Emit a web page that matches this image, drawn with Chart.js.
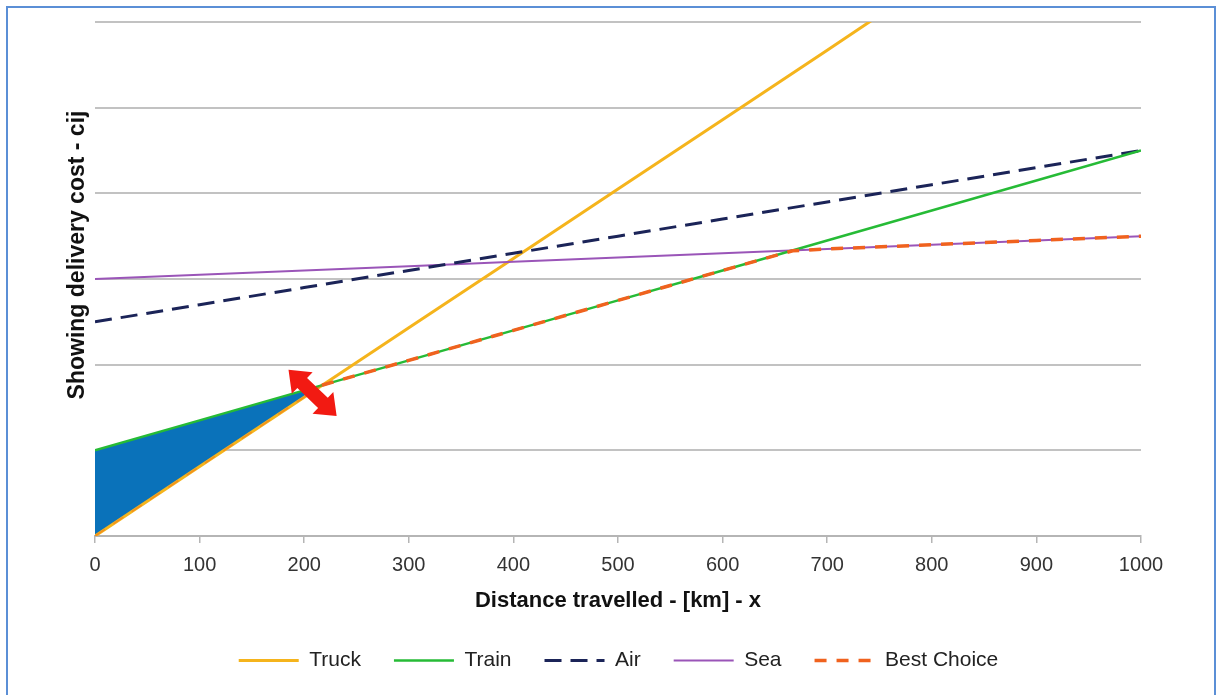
<!DOCTYPE html>
<html>
<head>
<meta charset="utf-8">
<script src="https://cdn.jsdelivr.net/npm/chart.js@4.4.0/dist/chart.umd.min.js"></script>
<style>
  body { margin: 0; background: #fff; }
  #frame { position: absolute; left: 6px; top: 6px; width: 1206px; height: 720px; border: 2px solid #5b8fd6; border-bottom: none; }
  #wrap { position: absolute; left: 0; top: 0; width: 1219px; height: 695px; }
</style>
</head>
<body>
<div id="frame"></div>
<div id="wrap"><canvas id="chart" width="1219" height="695"></canvas></div>
<script>
// distance in km (x) and relative delivery cost (y, no units shown)
var distance = [0, 100, 200, 300, 400, 500, 600, 700, 800, 900, 1000];
var truckKm = [0, 100, 200, 300, 400, 500, 600, 700, 750];
var truckCost = [0, 0.81, 1.62, 2.43, 3.24, 4.05, 4.86, 5.67, 6.08];
var trainCost = [1.0, 1.35, 1.7, 2.05, 2.4, 2.75, 3.1, 3.45, 3.8, 4.15, 4.5];
var airCost = [2.5, 2.7, 2.9, 3.1, 3.3, 3.5, 3.7, 3.9, 4.1, 4.3, 4.5];
var seaCost = [3.0, 3.05, 3.1, 3.15, 3.2, 3.25, 3.3, 3.35, 3.4, 3.45, 3.5];
var bestKm = [0, 100, 200, 217, 300, 400, 500, 600, 667, 700, 800, 900, 1000];
var bestCost = [0, 0.81, 1.62, 1.76, 2.05, 2.4, 2.75, 3.1, 3.33, 3.35, 3.4, 3.45, 3.5];
// shaded area between train and truck up to the crossing
var shadeKm = [0, 100, 200, 217];
var shadeTop = [1.0, 1.35, 1.7, 1.76];
var shadeBottom = [0, 0.81, 1.62, 1.76];
// red double arrow at the crossing (data units)
var arrowFrom = [185, 1.94];
var arrowTo = [231, 1.40];

var xTicks = [0, 100, 200, 300, 400, 500, 600, 700, 800, 900, 1000];

function pts(xs, ys) {
  return xs.map(function (x, i) { return { x: x, y: ys[i] }; });
}

var arrowPlugin = {
  id: "arrow",
  afterDatasetsDraw: function (chart) {
    var ctx = chart.ctx;
    var sx = chart.scales.x, sy = chart.scales.y;
    var x1 = sx.getPixelForValue(arrowFrom[0]), y1 = sy.getPixelForValue(arrowFrom[1]);
    var x2 = sx.getPixelForValue(arrowTo[0]), y2 = sy.getPixelForValue(arrowTo[1]);
    var len = Math.hypot(x2 - x1, y2 - y1);
    var head = 19, hw = 15, sw = 7;
    ctx.save();
    ctx.translate(x1, y1);
    ctx.rotate(Math.atan2(y2 - y1, x2 - x1));
    ctx.beginPath();
    ctx.moveTo(0, 0);
    ctx.lineTo(head, -hw);
    ctx.lineTo(head, -sw);
    ctx.lineTo(len - head, -sw);
    ctx.lineTo(len - head, -hw);
    ctx.lineTo(len, 0);
    ctx.lineTo(len - head, hw);
    ctx.lineTo(len - head, sw);
    ctx.lineTo(head, sw);
    ctx.lineTo(head, hw);
    ctx.closePath();
    ctx.fillStyle = "#f21a12";
    ctx.fill();
    ctx.restore();
  }
};

var yTitlePlugin = {
  id: "ytitle",
  afterDraw: function (chart) {
    var ctx = chart.ctx;
    ctx.save();
    ctx.translate(78, 255);
    ctx.rotate(-Math.PI / 2);
    ctx.font = "bold 23px 'Liberation Sans', Arial, sans-serif";
    ctx.fillStyle = "#111";
    ctx.textAlign = "center";
    ctx.textBaseline = "middle";
    ctx.fillText("Showing delivery cost - cij", 0, 0);
    ctx.restore();
  }
};

var ctx0 = document.getElementById("chart");
var myChart = new Chart(ctx0, {
  type: "line",
  data: {
    datasets: [
      { label: "Truck", data: pts(truckKm, truckCost), borderColor: "#f5b41c", borderWidth: 3, pointRadius: 0, fill: false, order: 4 },
      { label: "Train", data: pts(distance, trainCost), borderColor: "#26bb36", borderWidth: 2.5, pointRadius: 0, fill: false, order: 1 },
      { label: "Air", data: pts(distance, airCost), borderColor: "#1b2458", borderWidth: 3, borderDash: [17, 9], pointRadius: 0, fill: false, order: 2 },
      { label: "Sea", data: pts(distance, seaCost), borderColor: "#9a55b8", borderWidth: 2, pointRadius: 0, fill: false, order: 3 },
      {
        label: "Best Choice", data: pts(bestKm, bestCost), borderColor: "#f0621e", borderWidth: 3.5, borderDash: [12, 10], pointRadius: 0, fill: false, order: 0,
        segment: {
          // mostly hidden under the shaded area in the original
          borderColor: function (c) { return c.p1.parsed.x <= 217 ? "rgba(240,98,30,0.45)" : undefined; },
          borderWidth: function (c) { return c.p1.parsed.x <= 217 ? 1.5 : undefined; }
        }
      },
      { label: "", data: pts(shadeKm, shadeTop), borderWidth: 0, borderColor: "rgba(0,0,0,0)", backgroundColor: "#0a72ba", pointRadius: 0, fill: "+1", order: 5 },
      { label: "", data: pts(shadeKm, shadeBottom), borderWidth: 0, borderColor: "rgba(0,0,0,0)", pointRadius: 0, fill: false, order: 6 }
    ]
  },
  options: {
    responsive: false,
    animation: false,
    layout: { padding: { left: 18, right: 0, top: 22, bottom: 14 } },
    plugins: {
      tooltip: { enabled: false },
      legend: {
        position: "bottom",
        labels: {
          usePointStyle: true,
          pointStyleWidth: 60,
          padding: 33,
          color: "#222",
          font: { size: 21, family: "'Liberation Sans', Arial, sans-serif" },
          generateLabels: function (chart) {
            return chart.data.datasets.map(function (ds, i) {
              return {
                text: ds.label,
                datasetIndex: i,
                pointStyle: "line",
                strokeStyle: ds.borderColor,
                fillStyle: ds.borderColor,
                lineWidth: ds.borderWidth,
                lineDash: ds.borderDash || [],
                fontColor: "#222",
                hidden: false
              };
            }).filter(function (item) { return item.text !== ""; });
          }
        }
      }
    },
    scales: {
      x: {
        type: "linear",
        min: 0,
        max: 1000,
        afterBuildTicks: function (scale) {
          scale.ticks = xTicks.map(function (v) { return { value: v }; });
        },
        ticks: {
          color: "#333", padding: 10, maxRotation: 0,
          font: { size: 20, family: "'Liberation Sans', Arial, sans-serif" },
          callback: function (v) { return String(v); }
        },
        grid: { drawOnChartArea: false, color: "#b5b5b5", lineWidth: 1.5, tickLength: 7 },
        border: { color: "#b5b5b5", width: 2 },
        title: {
          display: true,
          text: "Distance travelled - [km] - x",
          color: "#111",
          font: { size: 22, weight: "bold", family: "'Liberation Sans', Arial, sans-serif" },
          padding: { top: 0, bottom: 3 }
        },
        afterFit: function (scale) { scale.height = 81; }
      },
      y: {
        min: 0,
        max: 6,
        ticks: { display: false, stepSize: 1 },
        grid: { color: "#c2c2c2", lineWidth: 2, drawTicks: false },
        border: { display: false },
        afterFit: function (scale) { scale.width = 77; }
      },
      y2: {
        position: "right",
        ticks: { display: false },
        grid: { display: false },
        border: { display: false },
        afterFit: function (scale) { scale.width = 78; }
      }
    }
  },
  plugins: [arrowPlugin, yTitlePlugin]
});
</script>
</body>
</html>
